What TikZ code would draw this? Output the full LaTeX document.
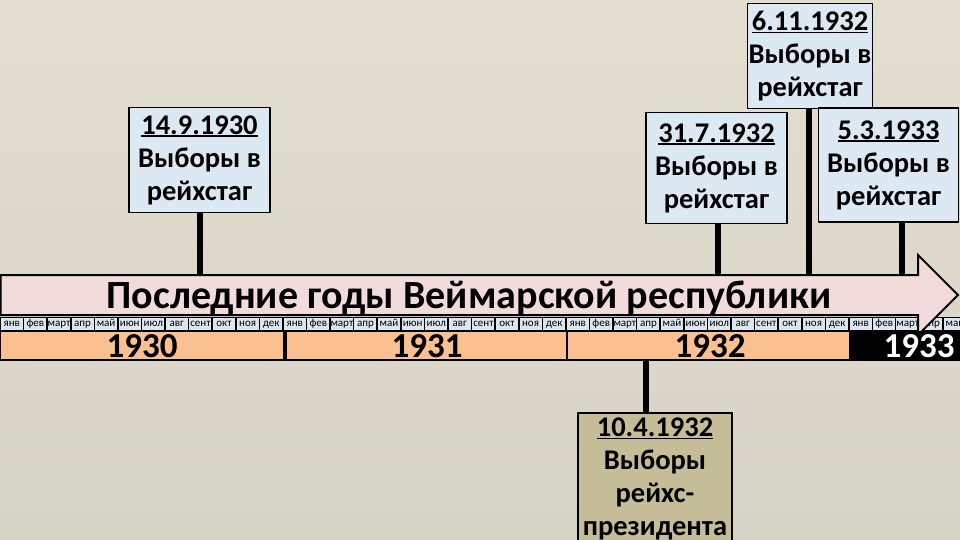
\documentclass[tikz,border=0pt]{standalone}
\usepackage{fontspec}
\setmainfont{Carlito}
\definecolor{bgtop}{RGB}{226,223,208}
\definecolor{bgbot}{RGB}{214,211,199}
\definecolor{boxblue}{RGB}{220,233,243}
\definecolor{boxtan}{RGB}{196,189,151}
\definecolor{arrowpink}{RGB}{242,220,219}
\definecolor{yearorange}{RGB}{251,192,144}
\definecolor{monthcell}{RGB}{221,230,240}
\newcommand\dateul[1]{\setbox0\hbox{#1}\leavevmode\rlap{\rule[-3pt]{\wd0}{1.8pt}}\box0}
\begin{document}
\begin{tikzpicture}[x=1pt,y=-1pt,
  box/.style={draw=black,line width=1.6pt,fill=boxblue,align=center,
    font=\fontsize{28.5}{33}\selectfont\bfseries,inner sep=1pt},
  stem/.style={line width=6pt,black},
  monthbox/.style={fill=monthcell,minimum width=22pt,minimum height=12pt,inner sep=0pt,
    text height=7.5pt,text depth=2.5pt,font=\fontsize{11}{11}\selectfont},
  yearlbl/.style={font=\fontsize{35}{35}\selectfont\bfseries,inner sep=0pt,anchor=base}]
\useasboundingbox (0,0) rectangle (960,540);
\fill[top color=bgtop,bottom color=bgbot] (0,0) rectangle (960,540);

% month strip
\fill[black] (0,316.5) rectangle (960,331);
\foreach \yr in {0,1,2,3}{
  \foreach \m [count=\i from 0] in {янв,фев,март,апр,май,июн,июл,авг,сент,окт,ноя,дек}{
    \pgfmathsetmacro\xx{(\yr*12+\i)*23.58+11.79}
    \node[monthbox] (m-\yr-\i) at (\xx,324) {\m};
  }
}
% year bar
\fill[black] (0,331) rectangle (960,361);
\fill[yearorange] (1,332) rectangle (283,359);
\fill[yearorange] (287,332) rectangle (566,359);
\fill[yearorange] (568,332) rectangle (849,359);
\node[yearlbl] (y1930) at (142,357) {1930};
\node[yearlbl] (y1931) at (427,357) {1931};
\node[yearlbl] (y1932) at (710,357) {1932};

% arrow
\draw[line width=2pt,fill=arrowpink,line join=miter]
  (0.5,275) -- (918,275) -- (918,255) -- (958,295) -- (918,335) -- (918,315) -- (0.5,315) -- cycle;
\node[font=\fontsize{40}{40}\selectfont\bfseries,anchor=base,inner sep=0pt] (title) at (469,308)
  {Последние годы Веймарской республики};
\fill[black] (849,331) rectangle (960,361);
\node[yearlbl,white] (y1933) at (919,357) {1933};

% event boxes
\node[box,minimum width=141pt,minimum height=105pt] (b1) at (199.5,160) {\dateul{14.9.1930}\\Выборы в\\рейхстаг};
\node[box,minimum width=124pt,minimum height=105pt] (b2) at (810,56) {\dateul{6.11.1932}\\Выборы в\\рейхстаг};
\node[box,minimum width=141pt,minimum height=111pt] (b3) at (716.5,168) {\dateul{31.7.1932}\\Выборы в\\рейхстаг};
\node[box,minimum width=140pt,minimum height=114pt] (b4) at (888.5,165) {\dateul{5.3.1933}\\Выборы в\\рейхстаг};
\node[box,fill=boxtan,minimum width=154pt,minimum height=132pt,anchor=north] (b5) at (655,412)
  {\dateul{10.4.1932}\\Выборы\\рейхс-\\президента};

% stems
\coordinate (f1) at (199.5,276);
\coordinate (f2) at (809,276);
\coordinate (f3) at (718,276);
\coordinate (f4) at (902,276);
\coordinate (f5) at (646,361);
\draw[stem] (b1.south) -- (f1);
\draw[stem] (b2.south -| f2) -- (f2);
\draw[stem] (b3.south -| f3) -- (f3);
\draw[stem] (b4.south -| f4) -- (f4);
\draw[stem] (b5.north -| f5) -- (f5);
\end{tikzpicture}
\end{document}
